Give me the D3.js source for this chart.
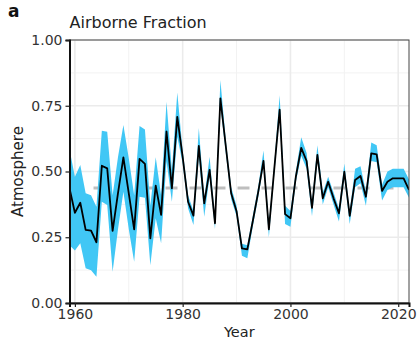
<!DOCTYPE html>
<html>
<head>
<meta charset="utf-8">
<script src="https://cdn.jsdelivr.net/npm/d3@7"></script>
<style>
	body { margin: 0; background: #fff; }
	text { font-family: 'DejaVu Sans', sans-serif; }
</style>
</head>
<body>
<div id="chart"></div>
<script>
// years shown on the chart
var years = d3.range(1959, 2023);

// airborne fraction, central estimate
var fraction = [
	0.437, 0.343, 0.381, 0.278, 0.275, 0.231, 0.522, 0.512, 0.274, 0.418,
	0.554, 0.417, 0.280, 0.548, 0.529, 0.246, 0.446, 0.335, 0.652, 0.436,
	0.708, 0.556, 0.385, 0.332, 0.597, 0.379, 0.506, 0.303, 0.778, 0.597,
	0.417, 0.349, 0.208, 0.204, 0.310, 0.420, 0.540, 0.280, 0.510, 0.735,
	0.338, 0.322, 0.480, 0.590, 0.540, 0.362, 0.563, 0.398, 0.461, 0.398,
	0.341, 0.499, 0.331, 0.468, 0.483, 0.404, 0.569, 0.565, 0.426, 0.461,
	0.474, 0.474, 0.474, 0.430
];

// uncertainty band
var lower = [
	0.220, 0.200, 0.227, 0.132, 0.125, 0.100, 0.385, 0.373, 0.119, 0.280,
	0.423, 0.280, 0.157, 0.404, 0.400, 0.144, 0.322, 0.227, 0.540, 0.385,
	0.632, 0.530, 0.360, 0.297, 0.560, 0.328, 0.480, 0.280, 0.750, 0.570,
	0.395, 0.330, 0.180, 0.170, 0.290, 0.400, 0.520, 0.250, 0.490, 0.710,
	0.300, 0.290, 0.460, 0.560, 0.510, 0.330, 0.540, 0.375, 0.440, 0.375,
	0.310, 0.475, 0.300, 0.440, 0.455, 0.370, 0.540, 0.535, 0.390, 0.430,
	0.440, 0.440, 0.440, 0.400
];
var upper = [
	0.585, 0.480, 0.525, 0.417, 0.410, 0.366, 0.655, 0.651, 0.410, 0.555,
	0.677, 0.550, 0.410, 0.673, 0.660, 0.370, 0.554, 0.410, 0.765, 0.506,
	0.800, 0.580, 0.410, 0.350, 0.665, 0.400, 0.556, 0.320, 0.848, 0.620,
	0.440, 0.370, 0.225, 0.220, 0.330, 0.440, 0.580, 0.300, 0.530, 0.790,
	0.370, 0.350, 0.500, 0.630, 0.570, 0.380, 0.600, 0.420, 0.480, 0.420,
	0.360, 0.530, 0.350, 0.510, 0.520, 0.425, 0.610, 0.600, 0.450, 0.500,
	0.510, 0.510, 0.510, 0.470
];

var meanFraction = 0.437;

var xMajor = [1960, 1980, 2000, 2020];
var xMinor = [1970, 1990, 2010];
var yMajor = [0, 0.25, 0.5, 0.75, 1];
var yMinor = [0.125, 0.375, 0.625, 0.875];

var margin = { top: 40, right: 8, bottom: 41, left: 69.5 };
var totalWidth = 417;
var totalHeight = 344;
var width = totalWidth - margin.left - margin.right;
var height = totalHeight - margin.top - margin.bottom;

var data = years.map(function(y, i) {
	return { year: y, value: fraction[i], lo: lower[i], hi: upper[i] };
});

var svg = d3.select('#chart').append('svg')
	.attr('width', totalWidth)
	.attr('height', totalHeight);

var g = svg.append('g')
	.attr('transform', 'translate(' + margin.left + ',' + margin.top + ')');

var x = d3.scaleLinear()
	.domain([1959, 2022])
	.range([0, width]);

var y = d3.scaleLinear()
	.domain([0, 1])
	.range([height, 0]);

g.append('clipPath')
	.attr('id', 'clip')
	.append('rect')
	.attr('width', width)
	.attr('height', height);

// grid
g.selectAll('.xminor').data(xMinor).enter().append('line')
	.attr('x1', x).attr('x2', x)
	.attr('y1', 0).attr('y2', height)
	.attr('stroke', '#f2f2f2').attr('stroke-width', 1);
g.selectAll('.yminor').data(yMinor).enter().append('line')
	.attr('y1', y).attr('y2', y)
	.attr('x1', 0).attr('x2', width)
	.attr('stroke', '#f2f2f2').attr('stroke-width', 1);
g.selectAll('.xmajor').data(xMajor).enter().append('line')
	.attr('x1', x).attr('x2', x)
	.attr('y1', 0).attr('y2', height)
	.attr('stroke', '#ebebeb').attr('stroke-width', 1.6);
g.selectAll('.ymajor').data(yMajor).enter().append('line')
	.attr('y1', y).attr('y2', y)
	.attr('x1', 0).attr('x2', width)
	.attr('stroke', '#ebebeb').attr('stroke-width', 1.6);

var plot = g.append('g').attr('clip-path', 'url(#clip)');

// long-term mean
plot.append('line')
	.attr('x1', x(1959)).attr('x2', x(2022))
	.attr('y1', y(meanFraction)).attr('y2', y(meanFraction))
	.attr('stroke', '#bebebe')
	.attr('stroke-width', 3)
	.attr('stroke-dasharray', '12,12');

var area = d3.area()
	.x(function(d) { return x(d.year); })
	.y0(function(d) { return y(d.lo); })
	.y1(function(d) { return y(d.hi); });

plot.append('path')
	.datum(data)
	.attr('fill', '#41c7f5')
	.attr('d', area);

var line = d3.line()
	.x(function(d) { return x(d.year); })
	.y(function(d) { return y(d.value); });

plot.append('path')
	.datum(data)
	.attr('fill', 'none')
	.attr('stroke', '#000')
	.attr('stroke-width', 1.8)
	.attr('stroke-linejoin', 'round')
	.attr('d', line);

// panel border
g.append('rect')
	.attr('width', width)
	.attr('height', height)
	.attr('fill', 'none')
	.attr('stroke', '#444')
	.attr('stroke-width', 1);

// axes
var xAxis = d3.axisBottom(x)
	.tickValues(xMajor)
	.tickFormat(d3.format('d'))
	.tickSize(4)
	.tickPadding(2);

var yAxis = d3.axisLeft(y)
	.tickValues(yMajor)
	.tickFormat(d3.format('.2f'))
	.tickSize(4)
	.tickPadding(3);

var gx = g.append('g')
	.attr('transform', 'translate(0,' + height + ')')
	.call(xAxis);
var gy = g.append('g').call(yAxis);

[gx, gy].forEach(function(a) {
	a.select('.domain').attr('stroke', '#111').attr('stroke-width', 2);
	a.selectAll('.tick line').attr('stroke', '#222').attr('stroke-width', 1.2);
	a.selectAll('.tick text')
		.attr('fill', '#333')
		.style('font-size', '14px')
		.style('font-family', 'DejaVu Sans');
});

// labels
svg.append('text')
	.attr('x', 8)
	.attr('y', 17)
	.style('font-size', '17px')
	.style('font-weight', 'bold')
	.attr('fill', '#111')
	.text('a');

svg.append('text')
	.attr('x', margin.left)
	.attr('y', 28)
	.style('font-size', '16px')
	.attr('fill', '#222')
	.text('Airborne Fraction');

svg.append('text')
	.attr('x', margin.left + width / 2)
	.attr('y', 337)
	.attr('text-anchor', 'middle')
	.style('font-size', '14.5px')
	.attr('fill', '#222')
	.text('Year');

svg.append('text')
	.attr('transform', 'translate(23,' + (margin.top + height / 2) + ') rotate(-90)')
	.attr('text-anchor', 'middle')
	.style('font-size', '15px')
	.attr('fill', '#222')
	.text('Atmosphere');
</script>
</body>
</html>
